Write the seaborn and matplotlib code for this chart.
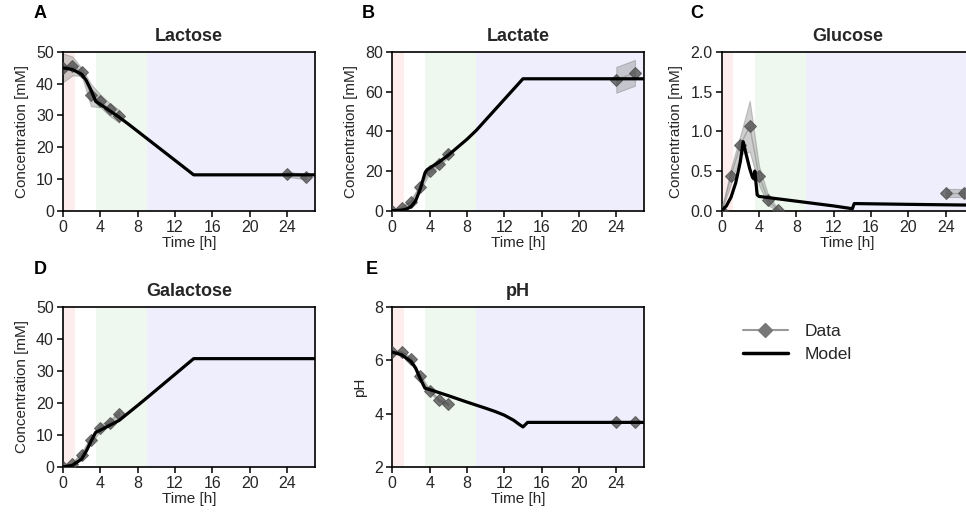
import numpy as np
import pandas as pd
import matplotlib
matplotlib.use("Agg")
import matplotlib.pyplot as plt
from matplotlib.lines import Line2D
import seaborn as sns

# ---------------- data ----------------
t_data = [0, 1, 2, 3, 4, 5, 6, 24, 26]

lactose_mean = [45.0, 45.6, 43.7, 36.4, 34.6, 31.9, 29.8, 11.5, 10.7]
lactose_sd = [4.5, 3.0, 1.2, 3.5, 2.0, 2.0, 2.0, 0.8, 0.8]
lactate_mean = [0.0, 1.2, 4.5, 12.0, 20.0, 23.4, 28.7, 66.0, 69.5]
lactate_sd = [0.3, 0.8, 1.0, 1.5, 1.2, 1.2, 1.5, 6.5, 6.5]
glucose_mean = [0.0, 0.44, 0.83, 1.065, 0.44, 0.13, 0.01, 0.22, 0.22]
glucose_sd = [0.0, 0.10, 0.12, 0.32, 0.12, 0.06, 0.02, 0.05, 0.05]
galactose_mean = [0.0, 1.0, 3.8, 8.5, 12.3, 13.7, 16.6, np.nan, np.nan]
galactose_sd = [0.3, 0.5, 0.8, 1.2, 1.0, 0.8, 1.0, np.nan, np.nan]
ph_mean = [6.3, 6.31, 6.05, 5.4, 4.85, 4.5, 4.35, 3.7, 3.7]
ph_sd = [0.03, 0.03, 0.05, 0.06, 0.06, 0.05, 0.05, 0.03, 0.03]

lactose_model_t = [0, 1, 2, 2.5, 3, 3.5, 4, 5, 6, 7, 14, 27]
lactose_model_y = [45, 44.5, 43, 41, 38, 34.5, 33.5, 31.5, 29.5, 27.3, 11.3, 11.3]
lactate_model_t = [0, 0.5, 1, 1.5, 2, 2.5, 3, 3.5, 3.7, 4, 5, 6, 7, 8, 9, 14, 27]
lactate_model_y = [0, 0.1, 0.3, 0.8, 2.0, 5.0, 11.0, 19.0, 20.5, 21.5, 24.5, 28, 32, 36, 40.5, 66.5, 66.5]
glucose_model_t = [0, 0.5, 1, 1.5, 2, 2.3, 2.6, 3, 3.3, 3.45, 3.55, 3.65, 3.8, 4, 6, 8, 10, 12, 14, 14.2, 20, 27]
glucose_model_y = [0, 0.06, 0.17, 0.35, 0.62, 0.87, 0.72, 0.53, 0.42, 0.40, 0.50, 0.38, 0.20, 0.18, 0.15, 0.12, 0.09, 0.06, 0.025, 0.09, 0.08, 0.07]
galactose_model_t = [0, 1, 2, 2.5, 3, 3.5, 4, 6, 8, 9, 14, 27]
galactose_model_y = [0, 0.5, 2.5, 5.0, 8.0, 10.8, 11.5, 14.5, 19.2, 21.6, 33.8, 33.8]
ph_model_t = [0, 1, 2, 2.5, 3, 3.5, 4, 6, 8, 10, 11, 12, 13, 13.5, 14, 14.5, 27]
ph_model_y = [6.3, 6.2, 5.95, 5.7, 5.3, 4.95, 4.9, 4.67, 4.43, 4.2, 4.08, 3.94, 3.75, 3.62, 3.5, 3.67, 3.67]

titles = ["Lactose", "Lactate", "Glucose", "Galactose", "pH"]
letters = ["A", "B", "C", "D", "E"]
ylabels = ["Concentration [mM]"] * 4 + ["pH"]
ylims = [(0, 50), (0, 80), (0, 2.0), (0, 50), (2, 8)]
yticks = [[0, 10, 20, 30, 40, 50], [0, 20, 40, 60, 80], [0.0, 0.5, 1.0, 1.5, 2.0],
          [0, 10, 20, 30, 40, 50], [2, 4, 6, 8]]
xticks = [0, 4, 8, 12, 16, 20, 24]
phases = [(0, 1.25, "#fdeded"), (3.55, 9.0, "#eef8ee"), (9.0, 27.0, "#eeeefc")]

means = [lactose_mean, lactate_mean, glucose_mean, galactose_mean, ph_mean]
sds = [lactose_sd, lactate_sd, glucose_sd, galactose_sd, ph_sd]
model_t = [lactose_model_t, lactate_model_t, glucose_model_t, galactose_model_t, ph_model_t]
model_y = [lactose_model_y, lactate_model_y, glucose_model_y, galactose_model_y, ph_model_y]

# ---------------- style ----------------
sns.set_theme(style="ticks")
plt.rcParams["font.family"] = ["Liberation Sans", "DejaVu Sans"]
plt.rcParams["axes.edgecolor"] = "black"
plt.rcParams["axes.linewidth"] = 1.2

W, H = 966, 520
fig = plt.figure(figsize=(W / 100, H / 100), dpi=100)

# pixel boxes: left, top, width, height
boxes = [(63, 52, 252, 158.7), (392.3, 52, 252, 158.7), (721.7, 52, 252, 158.7),
         (63, 306.7, 252, 160.3), (392.3, 306.7, 252, 160.3)]
letter_pos = [(40, 13), (368, 13), (697, 13), (40, 270), (372, 270)]

for i in range(5):
    l, t, w, h = boxes[i]
    ax = fig.add_axes([l / W, 1 - (t + h) / H, w / W, h / H])
    for x0, x1, c in phases:
        ax.axvspan(x0, x1, color=c, lw=0, zorder=0)

    df = pd.DataFrame({"t": t_data, "m": means[i], "sd": sds[i]})
    df["seg"] = np.where(df["t"] < 12, 0, 1)
    df = df.dropna()
    for seg, d in df.groupby("seg"):
        ax.fill_between(d["t"], d["m"] - d["sd"], d["m"] + d["sd"],
                        color="#888888", alpha=0.4, lw=0.8, edgecolor="#777777", zorder=2)
        sns.lineplot(data=d, x="t", y="m", ax=ax, color="#999999", lw=1.0, alpha=0.75,
                     marker="D", markersize=6.5, markerfacecolor="#4a4a4a",
                     markeredgecolor="#4a4a4a", zorder=3)
    mdf = pd.DataFrame({"t": model_t[i], "y": model_y[i]})
    sns.lineplot(data=mdf, x="t", y="y", ax=ax, color="black", lw=2.3, zorder=4,
                 estimator=None, sort=False)

    ax.set_xlim(0, 27)
    ax.set_ylim(*ylims[i])
    ax.set_xticks(xticks)
    ax.set_yticks(yticks[i])
    if i == 2:
        ax.set_yticklabels(["0.0", "0.5", "1.0", "1.5", "2.0"])
    ax.tick_params(labelsize=11.5, length=4, width=1.1, colors="black", labelcolor="#262626", pad=2.5)
    ax.set_xlabel("Time [h]", fontsize=11, color="#262626", labelpad=1)
    ax.set_ylabel(ylabels[i], fontsize=11, color="#262626", labelpad=5)
    ax.set_title(titles[i], fontsize=13, fontweight="bold", color="#262626", pad=8)
    for s in ax.spines.values():
        s.set_visible(True)
        s.set_color("black")
        s.set_linewidth(1.2)
    lx, ly = letter_pos[i]
    fig.text(lx / W, 1 - ly / H, letters[i], fontsize=13, fontweight="bold",
             color="black", ha="center", va="center")

handles = [Line2D([0], [0], color="#999999", lw=1.5, marker="D", markersize=7,
                  markerfacecolor="#777777", markeredgecolor="#777777"),
           Line2D([0], [0], color="black", lw=2.5)]
fig.legend(handles, ["Data", "Model"], loc="center left",
           bbox_to_anchor=(727 / W, 1 - 343 / H), frameon=False, fontsize=12.5,
           handlelength=2.6, labelspacing=0.45, handletextpad=1.0)

fig.savefig("out.png", dpi=100)
